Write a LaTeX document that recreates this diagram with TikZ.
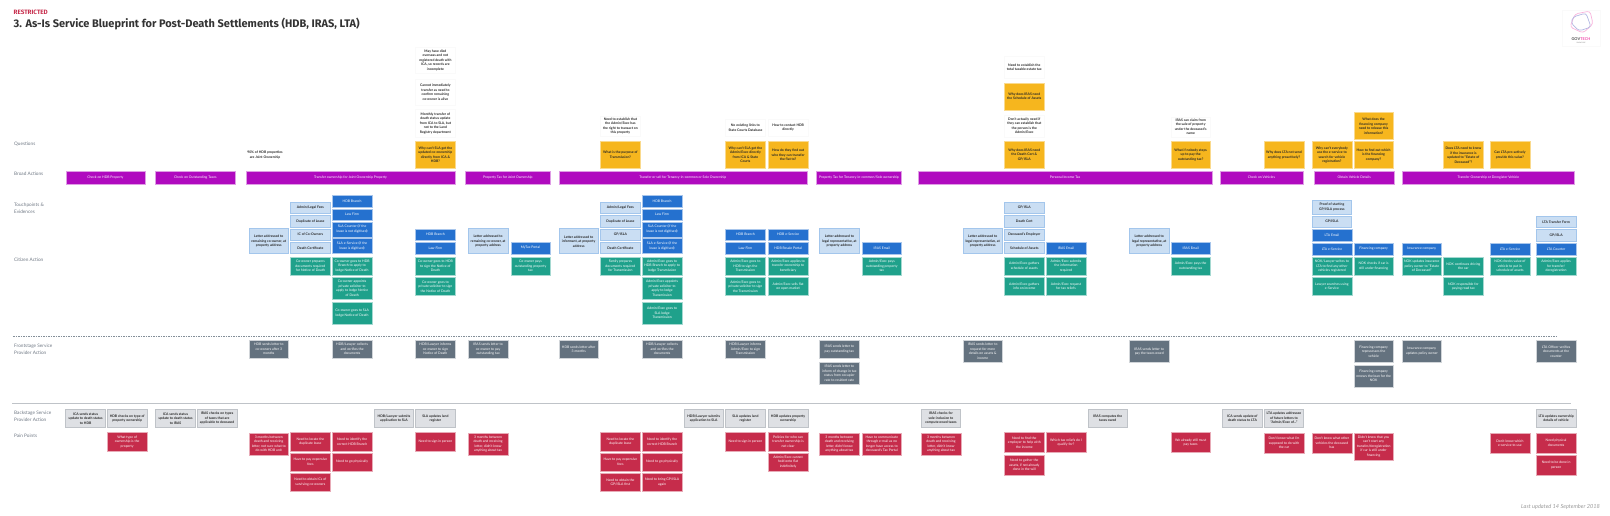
\documentclass[tikz,border=0pt]{standalone}
\usepackage{fontspec}
\usepackage{xcolor}
\setmainfont{Lato}
\newfontfamily\titlefont{Fira Sans}
\definecolor{broadcol}{HTML}{B00ABF}
\definecolor{questcol}{HTML}{F6B61E}
\definecolor{lettercol}{HTML}{CADEF3}
\definecolor{letteredge}{HTML}{A3C6EC}
\definecolor{touchcol}{HTML}{2571CF}
\definecolor{citizencol}{HTML}{1FA18B}
\definecolor{frontcol}{HTML}{64727F}
\definecolor{backcol}{HTML}{DEE0E4}
\definecolor{backedge}{HTML}{BFC3C8}
\definecolor{paincol}{HTML}{C62C4B}
\definecolor{labelcol}{HTML}{6E7783}
\tikzset{
    card/.style = {rectangle, inner sep=0pt, align=center, minimum width=39.6pt, minimum height=18.2pt, font=\fontsize{3.4}{4.5}\selectfont},
    dark-card/.style = {card, text=black!85, font=\fontsize{3.4}{4.5}\selectfont\bfseries},
    question-box/.style = {dark-card, fill=questcol, draw=questcol!50, line width=.4pt, minimum height=27pt},
    note-box/.style = {dark-card, fill=white, draw=black!2, line width=.4pt},
    letter-box/.style = {dark-card, fill=lettercol, draw=letteredge, line width=.8pt, minimum height=25pt},
    paper-box/.style = {dark-card, fill=lettercol, draw=letteredge, line width=.8pt, minimum height=11.4pt},
    touch-box/.style = {card, fill=touchcol, draw=touchcol!40, line width=.4pt, text=white, minimum height=11.4pt},
    citizen-box/.style = {card, fill=citizencol, draw=citizencol!40, line width=.4pt, text=white},
    front-box/.style = {card, fill=frontcol, draw=frontcol!30, line width=.4pt, text=white},
    back-box/.style = {dark-card, fill=backcol, draw=backedge, line width=.7pt},
    pain-box/.style = {card, fill=paincol, draw=paincol!40, line width=.4pt, text=white},
    broad-box/.style = {card, fill=broadcol, draw=broadcol!40, line width=.4pt, text=white, minimum height=13.5pt},
    row-label/.style = {anchor=west, align=left, inner sep=0pt, text=labelcol, font=\fontsize{4.7}{7}\selectfont},
}
\begin{document}
\begin{tikzpicture}[x=1pt, y=-1pt]
\useasboundingbox (0,0) rectangle (1610,515);

\node[anchor=west, inner sep=0pt, text=paincol, font=\titlefont\fontsize{6.3}{7}\selectfont\bfseries] (restricted) at (13.5,12.2) {RESTRICTED};
\node[anchor=west, inner sep=0pt, text=black!80, font=\titlefont\fontsize{11}{12}\selectfont\bfseries] (title) at (13.5,24) {3. As-Is Service Blueprint for Post-Death Settlements (HDB, IRAS, LTA)};
\node[anchor=east, inner sep=0pt, text=black!40, font=\fontsize{5.6}{6}\selectfont\itshape] (updated) at (1600,507) {Last updated 14 September 2018};

\node[draw=black!2, fill=white, minimum width=38pt, minimum height=36pt] (logo) at (1581,28) {};
\draw[magenta!30, line width=.7pt, rounded corners=3pt] (1575,14) -- (1590,11) -- (1593,24) -- (1583,33) -- (1570,27) -- cycle;
\draw[cyan!30!blue!30, line width=.7pt, rounded corners=3pt] (1573,17) -- (1586,13) -- (1591,27) -- (1579,31) -- (1571,23) -- cycle;
\node[inner sep=0pt, font=\fontsize{3.9}{4}\selectfont\bfseries] (logo-name) at (1581,39) {\textcolor{black!70}{GOV}\textcolor{magenta!70}{TECH}};
\node[inner sep=0pt, text=black!50, font=\fontsize{1.6}{2}\selectfont] (logo-sub) at (1581,43) {SINGAPORE};

\node[row-label] (questions) at (14,144.5) {Questions};
\node[row-label] (broad) at (14,174) {Broad Actions};
\node[row-label] (touch) at (14,208.5) {Touchpoints \&\\Evidences};
\node[row-label] (citizen) at (14,260) {Citizen Action};
\node[row-label] (front) at (14,349.3) {Frontstage Service\\Provider Action};
\node[row-label] (back) at (14,416.5) {Backstage Service\\Provider Action};
\node[row-label] (pain) at (14,436) {Pain Points};

\coordinate (dash-start) at (13,336);
\coordinate (dash-end) at (1557,336);
\coordinate (rule-start) at (12,403.7);
\coordinate (rule-end) at (1571,403.7);
\draw[frontcol!80, line width=.4pt, dashed, dash pattern=on 1.6pt off .9pt] (dash-start) -- (dash-end);
\draw[backedge, line width=1pt] (rule-start) -- (rule-end);

\node[broad-box, minimum width=79.2pt] (broad1) at (105.4,177.5) {Check on HDB Property};
\node[broad-box, minimum width=79.3pt] (broad2) at (195.3,177.5) {Check on Outstanding Taxes};
\node[broad-box, minimum width=209.3pt] (broad3) at (350.5,177.5) {Transfer ownership for Joint Ownership Property};
\node[broad-box, minimum width=85pt] (broad4) at (507.8,177.5) {Property Tax for Joint Ownership};
\node[broad-box, minimum width=248pt] (broad5) at (682.9,177.5) {Transfer or sell for Tenancy-in-common or Sole Ownership};
\node[broad-box, minimum width=85.1pt] (broad6) at (859,177.5) {Property Tax for Tenancy-in-common/Sole ownership};
\node[broad-box, minimum width=293.5pt] (broad7) at (1065.1,177.5) {Personal Income Tax};
\node[broad-box, minimum width=83.3pt] (broad8) at (1261.4,177.5) {Check on Vehicles};
\node[broad-box, minimum width=80.9pt] (broad9) at (1354.2,177.5) {Obtain Vehicle Details};
\node[broad-box, minimum width=172.2pt] (broad10) at (1488.4,177.5) {Transfer Ownership or Deregister Vehicle};

\node[note-box, draw=none, minimum height=20pt] (note-e) at (265,155) {90\% of HDB properties\\are Joint Ownership};
\node[note-box, minimum height=26pt] (note-i1) at (435.4,60.3) {May have died\\overseas and not\\registered death with\\ICA, so records are\\incomplete};
\node[note-box, minimum height=26pt] (note-i2) at (435.4,92) {Cannot immediately\\transfer as need to\\confirm remaining\\co-owner is alive};
\node[note-box, minimum height=27.6pt] (note-i3) at (435.4,123.2) {Monthly transfer of\\death status update\\from ICA to SLA, but\\not to the Land\\Registry department};
\node[question-box] (quest-i) at (435.4,154.8) {Why can't SLA get the\\updated co-ownership\\directly from ICA \&\\HDB?};
\node[note-box, minimum height=20pt] (note-m) at (620.4,126) {Need to establish that\\the Admin/Exec has\\the right to transact on\\this property};
\node[question-box] (quest-m) at (620.4,154.8) {What is the purpose of\\Transmission?};
\node[note-box, minimum height=17pt] (note-p) at (745.4,127.7) {No existing links to\\State Courts Database};
\node[question-box] (quest-p) at (745.4,154.8) {Why can't SLA get the\\Admin/Exec directly\\from ICA \& State\\Courts};
\node[note-box, minimum height=17pt] (note-q) at (788.1,127.7) {How to contact HDB\\directly};
\node[question-box] (quest-q) at (788.1,154.8) {How do they find out\\who they can transfer\\the flat to?};
\node[note-box, minimum height=22.3pt] (note-v1) at (1024.3,67.2) {Need to establish the\\total taxable estate tax};
\node[question-box] (quest-v1) at (1024.3,96.4) {Why does IRAS need\\the Schedule of Assets};
\node[note-box, minimum height=21.7pt] (note-v2) at (1024.3,125.9) {Don't actually need if\\they can establish that\\the person is the\\Admin/Exec};
\node[question-box] (quest-v2) at (1024.3,154.8) {Why does IRAS need\\the Death Cert \&\\GP/ISLA};
\node[note-box, minimum height=20pt] (note-z) at (1190.7,126.7) {IRAS can claim from\\the sale of property\\under the deceased's\\name};
\node[question-box] (quest-z) at (1190.7,154.8) {What if nobody steps\\up to pay the\\outstanding tax?};
\node[question-box] (quest-ab) at (1284,155) {Why does LTA not send\\anything proactively?};
\node[question-box] (quest-ac) at (1331.9,155) {Why can't everybody\\use the e-service to\\search for vehicle\\registration?};
\node[question-box] (quest-ad1) at (1373.6,126) {What does the\\financing company\\need to release this\\information?};
\node[question-box] (quest-ad2) at (1373.6,155) {How to find out which\\is the financing\\company?};
\node[question-box] (quest-af) at (1463.4,155) {Does LTA need to know\\if the insurance is\\updated to "Estate of\\Deceased"?};
\node[question-box] (quest-ag) at (1509.9,155) {Can LTA pro-actively\\provide this value?};

\node[letter-box] (letter-e) at (268.8,241.3) {Letter addressed to\\remaining co-owner, at\\property address};
\node[paper-box] (paper-f1) at (310.4,207.8) {Admin/Legal Fees};
\node[paper-box] (paper-f2) at (310.4,221.2) {Duplicate of Lease};
\node[paper-box] (paper-f3) at (310.4,234.7) {IC of Co-Owners};
\node[paper-box] (paper-f4) at (310.4,248) {Death Certificate};
\node[touch-box] (touch-g1) at (352.1,201) {HDB Branch};
\node[touch-box] (touch-g2) at (352.1,214.6) {Law Firm};
\node[touch-box, minimum height=15pt] (touch-g3) at (352.1,229.2) {SLA Counter (if the\\lease is not digitised)};
\node[touch-box, minimum height=15.7pt] (touch-g4) at (352.1,245.8) {SLA e-Service (if the\\lease is digitised)};
\node[touch-box] (touch-i1) at (435.4,234.7) {HDB Branch};
\node[touch-box] (touch-i2) at (435.4,248) {Law Firm};
\node[letter-box] (letter-j) at (488.1,241.3) {Letter addressed to\\remaining co-owner, at\\property address};
\node[touch-box] (touch-k) at (530.5,248) {MyTax Portal};
\node[letter-box] (letter-l) at (578.7,241.3) {Letter addressed to\\informant, at property\\address};
\node[paper-box] (paper-m1) at (620.4,207.8) {Admin/Legal Fees};
\node[paper-box] (paper-m2) at (620.4,221.2) {Duplicate of Lease};
\node[paper-box] (paper-m3) at (620.4,234.7) {GP/ISLA};
\node[paper-box] (paper-m4) at (620.4,248) {Death Certificate};
\node[touch-box] (touch-n1) at (662.1,201) {HDB Branch};
\node[touch-box] (touch-n2) at (662.1,214.6) {Law Firm};
\node[touch-box, minimum height=15pt] (touch-n3) at (662.1,229.2) {SLA Counter (if the\\lease is not digitised)};
\node[touch-box, minimum height=15.7pt] (touch-n4) at (662.1,245.8) {SLA e-Service (if the\\lease is digitised)};
\node[touch-box] (touch-p1) at (745.4,234.7) {HDB Branch};
\node[touch-box] (touch-p2) at (745.4,248) {Law Firm};
\node[touch-box] (touch-q1) at (788.1,234.7) {HDB e-Service};
\node[touch-box] (touch-q2) at (788.1,248) {HDB Resale Portal};
\node[letter-box] (letter-r) at (839.4,241.3) {Letter addressed to\\legal representative, at\\property address};
\node[touch-box] (touch-s) at (881.8,248) {IRAS Email};
\node[letter-box] (letter-u) at (982.7,241.3) {Letter addressed to\\legal representative, at\\property address};
\node[paper-box] (paper-v1) at (1024.3,207.8) {GP/ISLA};
\node[paper-box] (paper-v2) at (1024.3,221.2) {Death Cert};
\node[paper-box] (paper-v3) at (1024.3,234.7) {Deceased's Employer};
\node[paper-box] (paper-v4) at (1024.3,248) {Schedule of Assets};
\node[touch-box] (touch-w) at (1066,248) {IRAS Email};
\node[letter-box] (letter-y) at (1149.2,241.3) {Letter addressed to\\legal representative, at\\property address};
\node[touch-box] (touch-z) at (1190.7,248) {IRAS Email};
\node[paper-box, minimum height=14pt] (paper-ac1) at (1331.9,207) {Proof of starting\\GP/ISLA process};
\node[paper-box] (paper-ac2) at (1331.9,221.8) {GP/ISLA};
\node[touch-box] (touch-ac1) at (1331.9,235.3) {LTA Email};
\node[touch-box] (touch-ac2) at (1331.9,249) {LTA e-Service};
\node[touch-box] (touch-ad) at (1373.6,249) {Financing company};
\node[touch-box] (touch-ae) at (1421.8,249) {Insurance company};
\node[touch-box] (touch-ag) at (1509.9,249) {LTA e-Service};
\node[paper-box] (paper-ah1) at (1556.1,221.8) {LTA Transfer Form};
\node[paper-box] (paper-ah2) at (1556.1,235.3) {GP/ISLA};
\node[touch-box] (touch-ah) at (1556.1,249) {LTA Counter};

\node[citizen-box] (cit-f) at (310.4,266) {Co-owner prepares\\documents required\\for Notice of Death};
\node[citizen-box] (cit-g1) at (352.1,266) {Co-owner goes to HDB\\Branch to apply to\\lodge Notice of Death};
\node[citizen-box, minimum height=22.4pt] (cit-g2) at (352.1,288.2) {Co-owner appoints\\private solicitor to\\apply to lodge Notice\\of Death};
\node[citizen-box, minimum height=22.6pt] (cit-g3) at (352.1,313) {Co-owner goes to SLA\\lodge Notice of Death};
\node[citizen-box] (cit-i1) at (435.4,266) {Co-owner goes to HDB\\to sign the Notice of\\Death};
\node[citizen-box] (cit-i2) at (435.4,286.3) {Co-owner goes to\\private solicitor to sign\\the Notice of Death};
\node[citizen-box] (cit-k) at (530.5,266) {Co-owner pays\\outstanding property\\tax};
\node[citizen-box] (cit-m) at (620.4,266) {Family prepares\\documents required\\for Transmission};
\node[citizen-box] (cit-n1) at (662.1,266) {Admin/Exec goes to\\HDB Branch to apply to\\lodge Transmission};
\node[citizen-box, minimum height=22.4pt] (cit-n2) at (662.1,288.2) {Admin/Exec appoints\\private solicitor to\\apply to lodge\\Transmission};
\node[citizen-box, minimum height=22.6pt] (cit-n3) at (662.1,313) {Admin/Exec goes to\\SLA lodge\\Transmission};
\node[citizen-box] (cit-p1) at (745.4,266) {Admin/Exec goes to\\HDB to sign the\\Transmission};
\node[citizen-box] (cit-p2) at (745.4,286.3) {Admin/Exec goes to\\private solicitor to sign\\the Transmission};
\node[citizen-box] (cit-q1) at (788.1,266) {Admin/Exec applies to\\transfer ownership to\\beneficiary};
\node[citizen-box] (cit-q2) at (788.1,286.3) {Admin/Exec sells flat\\on open market};
\node[citizen-box] (cit-s) at (881.8,266) {Admin/Exec pays\\outstanding property\\tax};
\node[citizen-box] (cit-v1) at (1024.3,266) {Admin/Exec gathers\\schedule of assets};
\node[citizen-box] (cit-v2) at (1024.3,286.3) {Admin/Exec gathers\\info on income};
\node[citizen-box] (cit-w1) at (1066,266) {Admin/Exec submits\\the information\\required};
\node[citizen-box] (cit-w2) at (1066,286.3) {Admin/Exec request\\for tax reliefs};
\node[citizen-box] (cit-z) at (1190.7,266) {Admin/Exec pays the\\outstanding tax};
\node[citizen-box] (cit-ac1) at (1331.9,266.2) {NOK/Lawyer writes to\\LTA to find any other\\vehicles registered};
\node[citizen-box] (cit-ac2) at (1331.9,286.5) {Lawyer searches using\\e-Service};
\node[citizen-box] (cit-ad) at (1373.6,266.2) {NOK checks if car is\\still under financing};
\node[citizen-box] (cit-ae) at (1421.8,266.2) {NOK updates insurance\\policy owner to "Estate\\of Deceased"};
\node[citizen-box] (cit-af1) at (1463.4,266.2) {NOK continues driving\\the car};
\node[citizen-box] (cit-af2) at (1463.4,286.5) {NOK responsible for\\paying road tax};
\node[citizen-box] (cit-ag) at (1509.9,266.2) {NOK checks value of\\vehicle to put in\\schedule of assets};
\node[citizen-box] (cit-ah) at (1556.1,266.2) {Admin/Exec applies\\for transfer/\\deregistration};

\node[front-box] (front-e) at (268.8,349.2) {HDB sends letter to\\co-owners after 3\\months};
\node[front-box] (front-g) at (352.1,349.2) {HDB/Lawyer collects\\and verifies the\\documents};
\node[front-box] (front-i) at (435.4,349.2) {HDB/Lawyer informs\\co-owner to sign\\Notice of Death};
\node[front-box] (front-j) at (488.1,349.2) {IRAS sends letter to\\co-owner to pay\\outstanding tax};
\node[front-box] (front-l) at (578.7,349.2) {HDB sends letter after\\3 months};
\node[front-box] (front-n) at (662.1,349.2) {HDB/Lawyer collects\\and verifies the\\documents};
\node[front-box] (front-p) at (745.4,349.2) {HDB/Lawyer informs\\Admin/Exec to sign\\Transmission};
\node[front-box] (front-r1) at (839.4,349.2) {IRAS sends letter to\\pay outstanding tax};
\node[front-box, minimum height=22.4pt] (front-r2) at (839.4,373.2) {IRAS sends letter to\\inform of change in tax\\status from occupier\\rate to resident rate};
\node[front-box, minimum height=22.6pt] (front-u) at (982.7,351.3) {IRAS sends letter to\\request for more\\details on assets \&\\income};
\node[front-box, minimum height=22.6pt] (front-y) at (1149.2,351.3) {IRAS sends letter to\\pay the taxes owed};
\node[front-box, minimum height=22.6pt] (front-ad1) at (1373.6,351.3) {Financing company\\repossesses the\\vehicle};
\node[front-box, minimum height=22.4pt] (front-ad2) at (1373.6,376.2) {Financing company\\renews the loan for the\\NOK};
\node[front-box, minimum height=22.6pt] (front-ae) at (1421.8,351.3) {Insurance company\\updates policy owner};
\node[front-box, minimum height=22.6pt] (front-ah) at (1556.1,351.3) {LTA Officer verifies\\documents at the\\counter};

\node[back-box] (back-a) at (85.6,418.3) {ICA sends status\\update to death status\\to HDB};
\node[back-box] (back-b) at (127.2,418.3) {HDB checks on type of\\property ownership};
\node[back-box] (back-c) at (175.5,418.3) {ICA sends status\\update to death status\\to IRAS};
\node[back-box] (back-d) at (217.1,418.3) {IRAS checks on types\\of taxes that are\\applicable to deceased};
\node[back-box] (back-h) at (394,418.3) {HDB/Lawyer submits\\application to SLA};
\node[back-box] (back-i) at (435.4,418.3) {SLA updates land\\register};
\node[back-box] (back-o) at (703.7,418.3) {HDB/Lawyer submits\\application to SLA};
\node[back-box] (back-p) at (745.4,418.3) {SLA updates land\\register};
\node[back-box] (back-q) at (788.1,418.3) {HDB updates property\\ownership};
\node[back-box] (back-t) at (941,418.3) {IRAS checks for\\sole-inclusion to\\compute owed taxes};
\node[back-box] (back-x) at (1107.7,418.3) {IRAS computes the\\taxes owed};
\node[back-box] (back-aa) at (1242.3,418.3) {ICA sends update of\\death status to LTA};
\node[back-box] (back-ab) at (1284,418.3) {LTA updates addressee\\of future letters to\\"Admin/Exec of..."};
\node[back-box] (back-ah) at (1556.1,418.3) {LTA updates ownership\\details of vehicle};

\node[pain-box] (pain-b) at (127.2,441.7) {What type of\\ownership is the\\property};
\node[pain-box, minimum height=22.4pt] (pain-e) at (268.8,444) {3 months between\\death and receiving\\letter, not sure what to\\do with HDB unit};
\node[pain-box] (pain-f1) at (310.4,441.7) {Need to locate the\\duplicate lease};
\node[pain-box] (pain-f2) at (310.4,461.8) {Have to pay expensive\\fees};
\node[pain-box] (pain-f3) at (310.4,482.2) {Need to obtain ICs of\\surviving co-owners};
\node[pain-box] (pain-g1) at (352.1,441.7) {Need to identify the\\correct HDB Branch};
\node[pain-box] (pain-g2) at (352.1,461.8) {Need to go physically};
\node[pain-box] (pain-i) at (435.4,441.7) {Need to sign in person};
\node[pain-box, minimum height=22.4pt] (pain-j) at (488.1,444) {3 months between\\death and receiving\\letter, didn't know\\anything about tax};
\node[pain-box] (pain-m1) at (620.4,441.7) {Need to locate the\\duplicate lease};
\node[pain-box] (pain-m2) at (620.4,461.8) {Have to pay expensive\\fees};
\node[pain-box] (pain-m3) at (620.4,482.2) {Need to obtain the\\GP/ISLA first};
\node[pain-box] (pain-n1) at (662.1,441.7) {Need to identify the\\correct HDB Branch};
\node[pain-box] (pain-n2) at (662.1,461.8) {Need to go physically};
\node[pain-box] (pain-n3) at (662.1,482.2) {Need to bring GP/ISLA\\again};
\node[pain-box] (pain-p) at (745.4,441.7) {Need to sign in person};
\node[pain-box] (pain-q1) at (788.1,441.7) {Policies for who can\\transfer ownership is\\not clear};
\node[pain-box] (pain-q2) at (788.1,461.8) {Admin/Exec cannot\\hold onto flat\\indefinitely};
\node[pain-box, minimum height=22.4pt] (pain-r) at (839.4,444) {3 months between\\death and receiving\\letter, didn't know\\anything about tax};
\node[pain-box, minimum height=22.4pt] (pain-s) at (881.8,444) {Have to communicate\\through e-mail as no\\longer have access to\\deceased's Tax Portal};
\node[pain-box, minimum height=22.4pt] (pain-t) at (941,444) {3 months between\\death and receiving\\letter, didn't know\\anything about tax};
\node[pain-box, minimum height=20pt] (pain-v1) at (1024.3,442.4) {Need to find the\\employer to help with\\the income};
\node[pain-box, minimum height=20pt] (pain-v2) at (1024.3,465) {Need to gather the\\assets, if not already\\done in the will};
\node[pain-box, minimum height=20pt] (pain-w) at (1066,442.4) {Which tax reliefs do I\\qualify for?};
\node[pain-box, minimum height=20pt] (pain-z) at (1190.7,442.4) {We already still must\\pay taxes};
\node[pain-box, minimum height=20pt] (pain-ab) at (1284,443) {Don't know what I'm\\supposed to do with\\the car};
\node[pain-box, minimum height=20pt] (pain-ac) at (1331.9,443) {Don't know what other\\vehicles the deceased\\has};
\node[pain-box, minimum height=27pt] (pain-ad) at (1373.6,446.5) {Didn't know that you\\can't start any\\transfer/deregistration\\if car is still under\\financing};
\node[pain-box, minimum height=20pt] (pain-ag) at (1509.9,443) {Don't know which\\e-service to use};
\node[pain-box, minimum height=20pt] (pain-ah1) at (1556.1,443) {Need physical\\documents};
\node[pain-box, minimum height=20pt] (pain-ah2) at (1556.1,465) {Need to be done in\\person};
\end{tikzpicture}
\end{document}
